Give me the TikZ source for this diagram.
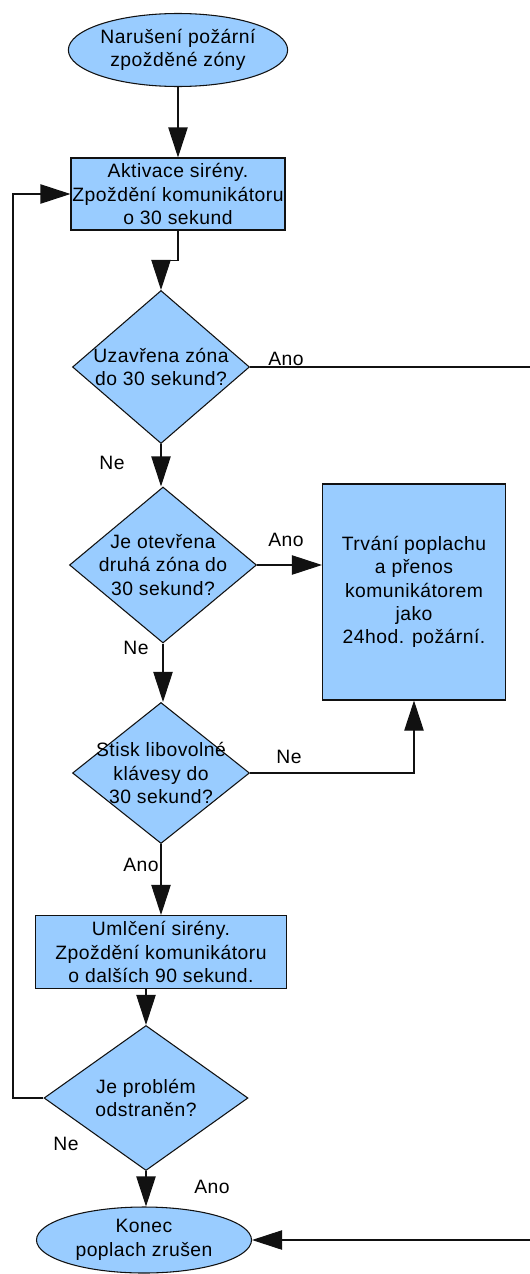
\documentclass[tikz,border=0pt]{standalone}
\usepackage{fontspec}
\setmainfont[LetterSpace=2.5]{Liberation Sans}
\usetikzlibrary{shapes.geometric,arrows.meta}
\definecolor{fillblue}{HTML}{99CCFF}
\definecolor{edgecol}{HTML}{111111}
\begin{document}
\begin{tikzpicture}[x=0.75pt,y=-0.75pt,
  every node/.style={font=\fontsize{14.5}{17.5}\selectfont, align=center, text=black},
  base/.style={draw=edgecol, fill=fillblue, line width=0.8pt, inner sep=0pt},
  term/.style={base, ellipse},
  proc/.style={base, rectangle},
  dec/.style={base, diamond},
  arr/.style={draw=edgecol, line width=0.8pt, -{Triangle[length=22.5pt,width=14.5pt]}},
  lbl/.style={inner sep=0pt}
]
\useasboundingbox (0,0) rectangle (530,1274);

\node[term, minimum width=160.5pt, minimum height=54.75pt] (start) at (178,50) {Narušení požární\\zpožděné zóny};
\node[proc, minimum width=160.5pt, minimum height=54pt] (box1) at (178,194) {Aktivace sirény.\\Zpoždění komunikátoru\\o 30 sekund};
\node[dec, minimum width=132.75pt, minimum height=114.75pt,
  label={[lbl]center:{Uzavřena zóna\\do 30 sekund?}}] (d1) at (161,367) {};
\node[dec, minimum width=140.25pt, minimum height=117pt,
  label={[lbl]center:{Je otevřena\\druhá zóna do\\30 sekund?}}] (d2) at (163,565) {};
\node[proc, minimum width=137.25pt, minimum height=162pt] (box2) at (414,592) {Trvání poplachu\\a přenos\\komunikátorem\\jako\\24hod. požární.};
\node[dec, minimum width=132.75pt, minimum height=105.75pt,
  label={[lbl]center:{Stisk libovolné\\klávesy do\\30 sekund?}}] (d3) at (161,773) {};
\node[proc, minimum width=188.25pt, minimum height=54.75pt] (box3) at (161,952) {Umlčení sirény.\\Zpoždění komunikátoru\\o dalších 90 sekund.};
\node[dec, minimum width=153pt, minimum height=108.75pt,
  label={[lbl]center:{Je problém\\odstraněn?}}] (d4) at (146,1098) {};
\node[term, minimum width=161.25pt, minimum height=49.5pt] (end) at (144,1240) {Konec\\poplach zrušen};

\coordinate (r1) at (545,367);
\coordinate (l1) at (13,1098);

\draw[arr] (start) -- (box1);
\draw[arr] (box1.south) -- ++(0,30) -| (d1.north);
\draw[arr] (d1.east) -- (r1) |- (end.east);
\draw[arr] (d1.south) -- (d1.south |- d2.north);
\draw[arr] (d2.east) -- (d2.east -| box2.west);
\draw[arr] (d2.south) -- (d2.south |- d3.north);
\draw[arr] (d3.east) -| (box2.south);
\draw[arr] (d3.south) -- (d3.south |- box3.north);
\draw[arr] (d4.north |- box3.south) -- (d4.north);
\draw[arr] (d4.south) -- (d4.south |- end.north);
\draw[arr] (d4.west) -- (l1) |- (box1.west);

\node[lbl] (a1) at (286,359) {Ano};
\node[lbl] (n1) at (112,463) {Ne};
\node[lbl] (a2) at (286,540) {Ano};
\node[lbl] (n2) at (136,648) {Ne};
\node[lbl] (n3) at (289,757) {Ne};
\node[lbl] (a3) at (141,865) {Ano};
\node[lbl] (n4) at (66,1144) {Ne};
\node[lbl] (a4) at (212,1187) {Ano};
\end{tikzpicture}
\end{document}
